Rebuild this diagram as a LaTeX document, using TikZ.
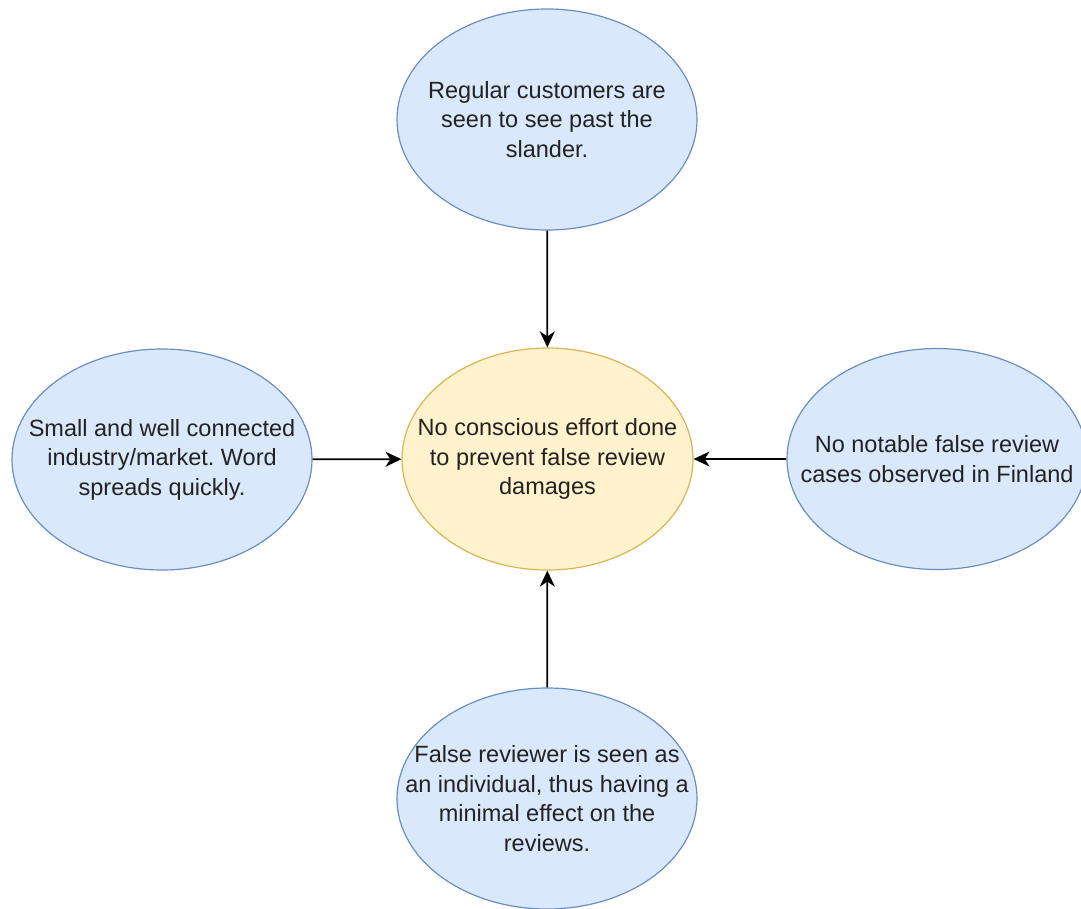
\documentclass[tikz,border=0pt]{standalone}
\usepackage{fontspec}
\setmainfont{Liberation Sans}
\frenchspacing
\usetikzlibrary{shapes.geometric,arrows.meta}
\definecolor{bluefill}{HTML}{DAE8FC}
\definecolor{bluedraw}{HTML}{6C8EBF}
\definecolor{yelfill}{HTML}{FFF2CC}
\definecolor{yeldraw}{HTML}{D6B656}
\definecolor{txt}{HTML}{222222}
\begin{document}
\begin{tikzpicture}[x=1pt,y=-1pt,
  caption/.style={align=center, text=txt, inner sep=0pt,
    font=\fontsize{23.5}{29.5}\selectfont},
  bubble/.style={ellipse, draw=bluedraw, fill=bluefill, line width=1.2pt,
    minimum width=300pt, minimum height=221pt, inner sep=0pt,
    label={[caption]center:#1}},
  core/.style={bubble=#1, draw=yeldraw, fill=yelfill, minimum width=291pt, minimum height=222pt},
  link/.style={line width=1.8pt, black, -{Stealth[length=16pt,width=15pt,inset=5pt]}}]
  \useasboundingbox (0,0) rectangle (1081,908);
  \node[core={No conscious effort done\\to prevent false review\\damages}] (c) at (547.5,459) {};
  \node[bubble={Regular customers are\\seen to see past the\\slander.}] (t) at (547,119.5) {};
  \node[bubble={Small and well connected\\industry/market. Word\\spreads quickly.}] (l) at (162,459.5) {};
  \node[bubble={No notable false review\\cases observed in Finland}] (r) at (937,459) {};
  \node[bubble={False reviewer is seen as\\an individual, thus having a\\minimal effect on the\\reviews.}] (b) at (547,798.5) {};
  \draw[link] (t) -- (c);
  \draw[link] (l) -- (c);
  \draw[link] (r) -- (c);
  \draw[link] (b) -- (c);
\end{tikzpicture}
\end{document}
